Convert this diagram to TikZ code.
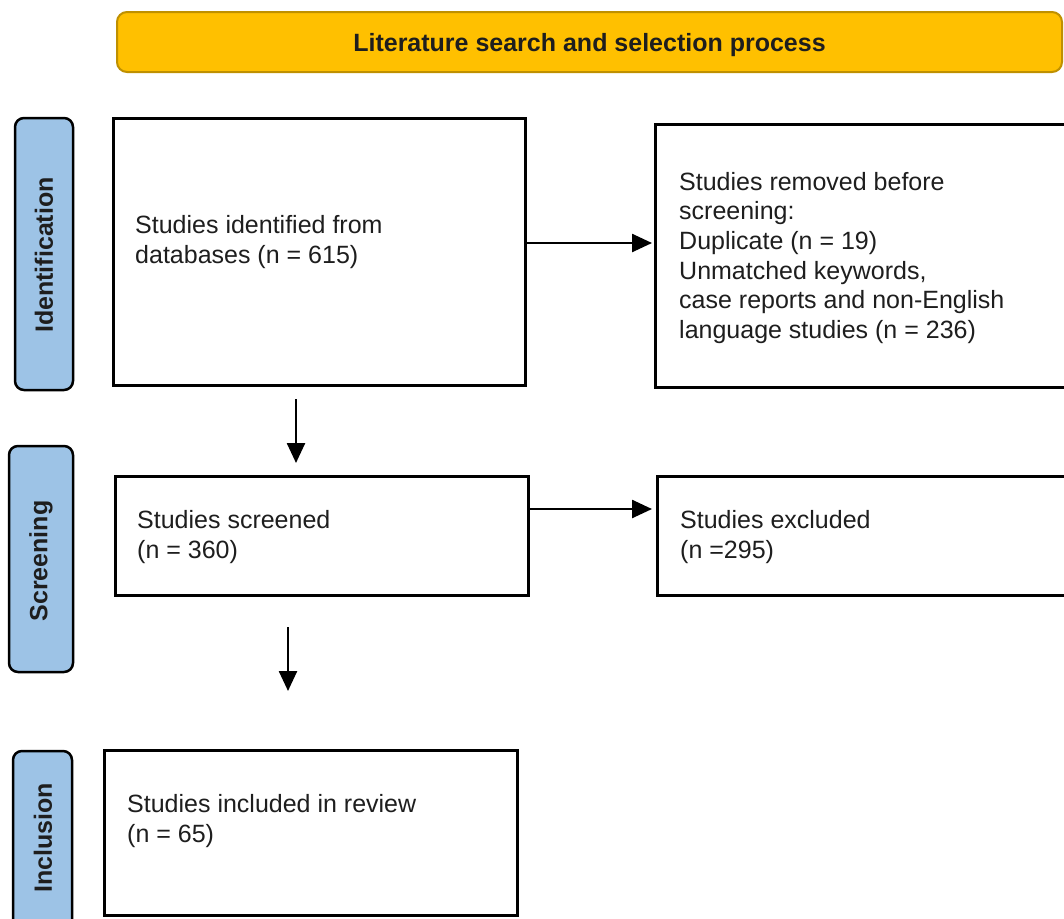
\documentclass[tikz,border=0pt]{standalone}
\usepackage{fontspec}
\setmainfont{Liberation Sans}
\usetikzlibrary{arrows.meta}
\definecolor{bannerfill}{HTML}{FFC000}
\definecolor{bannerdraw}{HTML}{BF9000}
\definecolor{labfill}{HTML}{9DC3E6}
\definecolor{txtcol}{HTML}{1E1E1E}
\begin{document}
\begin{tikzpicture}[x=1pt,y=-1pt,
  banner/.style={draw=bannerdraw, fill=bannerfill, line width=2pt, rounded corners=10pt, inner sep=0pt, outer sep=0pt},
  lab/.style={draw=black, fill=labfill, line width=2.5pt, rounded corners=9pt, inner sep=0pt, outer sep=0pt},
  box/.style={draw=black, line width=3pt, inner sep=0pt, outer sep=0pt},
  txt/.style={text=txtcol, font=\fontsize{25}{30}\selectfont, align=left, inner sep=0pt, anchor=north west},
  labtxt/.style={text=txtcol, font=\fontsize{25}{30}\selectfont\bfseries, rotate=90, inner sep=0pt},
  arr/.style={line width=2.5pt, -{Triangle[length=20pt,width=18pt]}}
]
\clip (0,0) rectangle (1064,918);
\fill[white] (0,0) rectangle (1064,918);

% banner
\node[banner, minimum width=945pt, minimum height=60pt, anchor=north west] (ban) at (117,12) {};
\node[labtxt, rotate=-90] (bantxt) at ([yshift=-3pt]ban.center) {Literature search and selection process};

% phase labels
\node[lab, minimum width=272pt, minimum height=58pt, rotate=90] (lid) at (44,254) {};
\node[labtxt] (lidtxt) at (44,255) {Identification};
\node[lab, minimum width=226pt, minimum height=64pt, rotate=90] (lsc) at (41,559) {};
\node[labtxt] (lsctxt) at (41,561) {Screening};
\node[lab, minimum width=190pt, minimum height=59pt, rotate=90] (lin) at (42.5,846) {};
\node[labtxt] (lintxt) at (43,838) {Inclusion};

% boxes
\node[box, minimum width=412pt, minimum height=267pt, anchor=north west] (b1) at (113,118) {};
\node[box, minimum width=420pt, minimum height=263pt, anchor=north west] (b2) at (655,124) {};
\node[box, minimum width=413pt, minimum height=119pt, anchor=north west] (b3) at (115,476) {};
\node[box, minimum width=418pt, minimum height=119pt, anchor=north west] (b4) at (657,476) {};
\node[box, minimum width=413pt, minimum height=165pt, anchor=north west] (b5) at (104,750) {};

% texts
\node[txt] (t1) at (135,215) {Studies identified from\\databases (n = 615)};
\node[txt, font=\fontsize{25}{29.6}\selectfont] (t2) at (679,172) {Studies removed before\\screening:\\Duplicate (n = 19)\\Unmatched keywords,\\case reports and non-English\\language studies (n = 236)};
\node[txt] (t3) at (137,510) {Studies screened\\(n = 360)};
\node[txt] (t4) at (680,510) {Studies excluded\\(n =295)};
\node[txt] (t5) at (127,794) {Studies included in review\\(n = 65)};

% arrows
\draw[arr, shorten >=3pt] ([yshift=8.5pt]b1.east) -- ([yshift=12.5pt]b2.west);
\draw[arr, shorten >=5pt] ([yshift=26.5pt]b3.east) -- ([yshift=26.5pt]b4.west);
\draw[arr, shorten <=14pt, shorten >=13pt] ([xshift=-23pt]b1.south) -- ([xshift=-25.5pt]b3.north);
\draw[arr, shorten <=32pt, shorten >=59pt] ([xshift=-33.5pt]b3.south) -- ([xshift=-22.5pt]b5.north);
\end{tikzpicture}
\end{document}
